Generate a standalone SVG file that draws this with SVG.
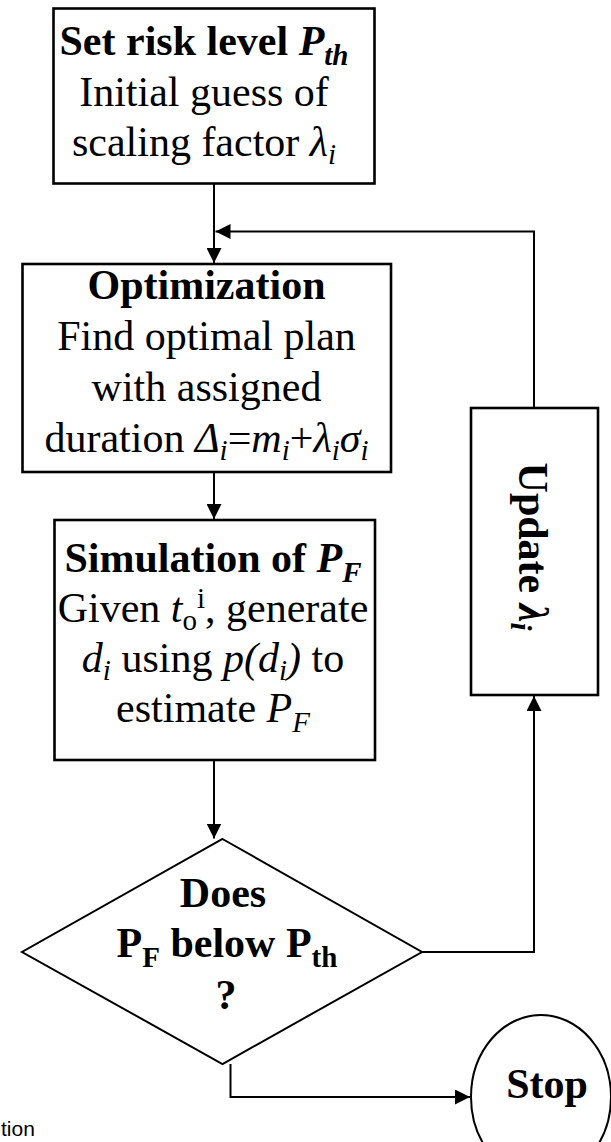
<svg xmlns="http://www.w3.org/2000/svg" width="611" height="1142" viewBox="0 0 611 1142">
<style>
.box{fill:#fff;stroke:#000;stroke-width:2.6}
.ln{fill:none;stroke:#000;stroke-width:2}
.t{font-family:"Liberation Serif","Times New Roman",serif;font-size:42px;fill:#000;text-anchor:middle}
.b{font-weight:bold}
.i{font-style:italic}
.s{font-size:29px}
.cap{font-family:"Liberation Sans",Arial,sans-serif;font-size:21px;fill:#000}
</style>
<defs>
<marker id="ah" markerUnits="userSpaceOnUse" markerWidth="15" markerHeight="15" refX="15" refY="7.5" orient="auto">
<path d="M0,0 L15,7.5 L0,15 z" fill="#000"/>
</marker>
</defs>
<rect width="611" height="1142" fill="#fff"/>
<g id="connectors">
<path class="ln" d="M214,183.5 V263" marker-end="url(#ah)"/>
<path class="ln" d="M534,408 V231.5 H215.5" marker-end="url(#ah)"/>
<path class="ln" d="M214,472 V519" marker-end="url(#ah)"/>
<path class="ln" d="M214,760 V838.5" marker-end="url(#ah)"/>
<path class="ln" d="M422,952 H534 V696" marker-end="url(#ah)"/>
<path class="ln" d="M230.5,1064 V1097 H470" marker-end="url(#ah)"/>
</g>
<g id="init">
<rect class="box" x="53.5" y="8.5" width="321" height="175"/>
<text class="t" x="204" y="55"><tspan class="b">Set risk level </tspan><tspan class="b i">P</tspan><tspan class="b i s" dy="10">th</tspan></text>
<text class="t" x="204" y="106">Initial guess of</text>
<text class="t" x="204" y="156">scaling factor <tspan class="i">λ</tspan><tspan class="i s" dy="8">i</tspan></text>
</g>
<g id="optimization">
<rect class="box" x="22.5" y="264" width="368.5" height="208"/>
<text class="t b" x="206.5" y="299">Optimization</text>
<text class="t" x="206.5" y="350">Find optimal plan</text>
<text class="t" x="206.5" y="401">with assigned</text>
<text class="t" x="206.5" y="452">duration <tspan class="i">Δ</tspan><tspan class="i s" dy="8">i</tspan><tspan dy="-8">=</tspan><tspan class="i">m</tspan><tspan class="i s" dy="8">i</tspan><tspan dy="-8">+</tspan><tspan class="i">λ</tspan><tspan class="i s" dy="8">i</tspan><tspan class="i" dy="-8">σ</tspan><tspan class="i s" dy="8">i</tspan></text>
</g>
<g id="simulation">
<rect class="box" x="54.5" y="520" width="320.5" height="240"/>
<text class="t" x="213" y="572"><tspan class="b">Simulation of </tspan><tspan class="b i">P</tspan><tspan class="b i s" dy="10">F</tspan></text>
<text class="t" x="213" y="622">Given <tspan class="i">t</tspan><tspan class="s" dy="8">o</tspan><tspan class="s" dy="-22">i</tspan><tspan dy="14">, generate</tspan></text>
<text class="t" x="213" y="672"><tspan class="i">d</tspan><tspan class="i s" dy="8">i</tspan><tspan dy="-8"> using </tspan><tspan class="i">p(d</tspan><tspan class="i s" dy="8">i</tspan><tspan class="i" dy="-8">)</tspan> to</text>
<text class="t" x="213" y="722">estimate <tspan class="i">P</tspan><tspan class="i s" dy="10">F</tspan></text>
</g>
<g id="update">
<rect class="box" x="471" y="408" width="127" height="287"/>
<text class="t b" transform="translate(519,546.5) rotate(90)">Update <tspan class="i">λ</tspan><tspan class="i s" dy="8">i</tspan></text>
</g>
<g id="decision">
<polygon class="ln" points="222.5,839 422,952 222.5,1064 22,952" fill="#fff"/>
<text class="t b" x="223" y="907">Does</text>
<text class="t b" x="227" y="957">P<tspan class="s" dy="10">F</tspan><tspan dy="-10"> below P</tspan><tspan class="s" dy="10">th</tspan></text>
<text class="t b" x="226" y="1009">?</text>
</g>
<g id="stop">
<ellipse class="ln" cx="541" cy="1097" rx="70" ry="82" fill="#fff"/>
<text class="t b" x="547" y="1098">Stop</text>
</g>
<text class="cap" x="1" y="1136">tion</text>
</svg>
